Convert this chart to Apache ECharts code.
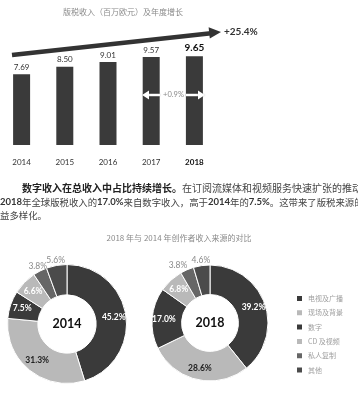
<!DOCTYPE html>
<html><head><meta charset="utf-8">
<script src="https://cdn.jsdelivr.net/npm/echarts@6/dist/echarts.min.js"></script>
<style>html,body{margin:0;padding:0;background:#fff}#c{width:358px;height:398px}</style>
</head><body><div id="c"></div>
<script>
// ---- data ----
const years = ['2014', '2015', '2016', '2017', '2018'];
const revenue = [7.69, 8.50, 9.01, 9.57, 9.65];
const sources = ['电视及广播', '现场及背景', '数字', 'CD 及视频', '私人复制', '其他'];
const share2014 = [45.2, 31.3, 7.5, 6.6, 3.8, 5.6];
const share2018 = [39.2, 28.6, 17.0, 6.8, 3.8, 4.6];
const growthTotal = '+25.4%';
const growthLast = '+0.9%';

const CJK = '"Noto Sans CJK SC", sans-serif';
const SANS = 'Lato, "Open Sans", sans-serif';
const sliceColors = ['#3a3a3a', '#b9b9b9', '#3a3a3a', '#b9b9b9', '#666666', '#4b4b4b'];
const labelStyles = [
  { color: '#fff' }, { color: '#222' }, { color: '#fff' }, { color: '#fff' },
  { position: 'outside', color: '#8a8a8a', fontWeight: 'normal', distanceToLabelLine: 0 },
  { position: 'outside', color: '#8a8a8a', fontWeight: 'normal', distanceToLabelLine: 0 }
];

function pie(name, values, cx, cy, r, shift4) {
  return {
    type: 'pie', name: name, center: [cx, cy], radius: [r * 0.49, r],
    startAngle: 90, clockwise: true, avoidLabelOverlap: false, silent: true,
    itemStyle: { borderColor: '#fff', borderWidth: 1 },
    label: {
      show: true, position: 'inside', fontFamily: SANS, fontWeight: 'bold', fontSize: 8.5,
      formatter: p => p.value.toFixed(1) + '%'
    },
    labelLine: { show: false, length: 5, length2: 0 },
    labelLayout: p => (p.dataIndex === 4 ? { align: 'center', dx: shift4 } : p.dataIndex === 5 ? { align: 'center' } : {}),
    data: sources.map((s, i) => ({
      name: s, value: values[i], itemStyle: { color: sliceColors[i] }, label: labelStyles[i]
    }))
  };
}

const chart = echarts.init(document.getElementById('c'), null, { renderer: 'canvas' });
const Z = 100;
chart.setOption({
  animation: false,
  backgroundColor: '#fff',
  grid: { left: 0, width: 216, top: 53, height: 92 },
  xAxis: {
    type: 'category', data: years,
    axisLine: { show: false }, axisTick: { show: false },
    axisLabel: {
      margin: 13, fontSize: 8, color: '#333', fontFamily: SANS,
      formatter: (v, i) => (i === years.length - 1 ? '{b|' + v + '}' : v),
      rich: { b: { fontWeight: 'bold', fontSize: 8, color: '#111', fontFamily: SANS } }
    }
  },
  yAxis: { type: 'value', min: 0, max: 10, show: false, splitLine: { show: false } },
  legend: {
    orient: 'vertical', left: 290, top: 289, itemWidth: 7, itemHeight: 7, itemGap: 5.3,
    icon: 'rect', selectedMode: false, data: sources,
    textStyle: { fontSize: 7, color: '#a0a0a0', fontFamily: CJK }
  },
  series: [
    {
      type: 'bar', barWidth: 17, silent: true,
      itemStyle: { color: '#3a3a3a' },
      label: {
        show: true, position: 'top', distance: 3, fontSize: 8, color: '#333', fontFamily: SANS,
        formatter: p => p.value.toFixed(2)
      },
      data: revenue.map((v, i) => (i === revenue.length - 1
        ? { value: v, label: { fontSize: 10, fontWeight: 'bold', color: '#111' } }
        : v))
    },
    pie('2014', share2014, 67, 324, 59.5, 0),
    pie('2018', share2018, 210, 323, 58, -7)
  ],
  graphic: [
    { type: 'text', z: Z, style: { text: '版税收入（百万欧元）及年度增长', x: 123, y: 12, align: 'center', verticalAlign: 'middle', fontSize: 8, fill: '#8a8a8a', fontFamily: CJK } },
    { type: 'line', z: Z, shape: { x1: 12, y1: 55, x2: 211, y2: 33.2 }, style: { stroke: '#333', lineWidth: 4.5 } },
    { type: 'polygon', z: Z, shape: { points: [[221, 32], [208.6, 27.3], [209.8, 38.6]] }, style: { fill: '#333' } },
    { type: 'text', z: Z, style: { text: growthTotal, x: 224, y: 32, verticalAlign: 'middle', fontSize: 10, fontWeight: 'bold', fill: '#333', fontFamily: SANS } },
    // white double arrow between 2017 and 2018
    { type: 'line', z: Z, shape: { x1: 147, y1: 95, x2: 160, y2: 95 }, style: { stroke: '#fff', lineWidth: 2.5, shadowColor: 'rgba(0,0,0,0.3)', shadowBlur: 1.5 } },
    { type: 'polygon', z: Z, shape: { points: [[142, 95], [149, 90.5], [149, 99.5]] }, style: { fill: '#fff', shadowColor: 'rgba(0,0,0,0.3)', shadowBlur: 1.5 } },
    { type: 'line', z: Z, shape: { x1: 186, y1: 95, x2: 199, y2: 95 }, style: { stroke: '#fff', lineWidth: 2.5, shadowColor: 'rgba(0,0,0,0.3)', shadowBlur: 1.5 } },
    { type: 'polygon', z: Z, shape: { points: [[205, 95], [198, 90.5], [198, 99.5]] }, style: { fill: '#fff', shadowColor: 'rgba(0,0,0,0.3)', shadowBlur: 1.5 } },
    { type: 'text', z: Z, style: { text: growthLast, x: 173.5, y: 95, align: 'center', verticalAlign: 'middle', fontSize: 7.5, fill: '#8a8a8a', fontFamily: SANS } },
    // paragraph
    { type: 'text', z: Z, style: {
        x: 22, y: 188, verticalAlign: 'middle',
        text: '{b|数字收入在总收入中占比持续增长。}{n|在订阅流媒体和视频服务快速扩张的推动下}',
        rich: {
          b: { fontSize: 10, fontWeight: 'bold', fill: '#222', fontFamily: CJK },
          n: { fontSize: 10, fill: '#444', fontFamily: CJK }
        } } },
    { type: 'text', z: Z, style: {
        x: 0, y: 202, verticalAlign: 'middle',
        text: '{d|2018}{n|年全球版税收入的}{d|17.0%}{n|来自数字收入，高于}{d|2014}{n|年的}{d|7.5%}{n|。这带来了版税来源的日}',
        rich: {
          d: { fontSize: 9.5, fill: '#333', fontFamily: SANS, fontWeight: 'bold' },
          n: { fontSize: 9.4, fill: '#444', fontFamily: CJK }
        } } },
    { type: 'text', z: Z, style: { x: 0, y: 215, verticalAlign: 'middle', text: '益多样化。', fontSize: 9.4, fill: '#444', fontFamily: CJK } },
    { type: 'text', z: Z, style: { x: 179, y: 238, align: 'center', verticalAlign: 'middle', text: '2018 年与 2014 年创作者收入来源的对比', fontSize: 8, fill: '#8a8a8a', fontFamily: CJK } },
    { type: 'text', z: Z, style: { x: 67, y: 324, align: 'center', verticalAlign: 'middle', text: '2014', fontSize: 12.5, fontWeight: 'bold', fill: '#111', fontFamily: SANS } },
    { type: 'text', z: Z, style: { x: 210, y: 323, align: 'center', verticalAlign: 'middle', text: '2018', fontSize: 12.5, fontWeight: 'bold', fill: '#111', fontFamily: SANS } }
  ]
});
</script>
</body></html>
